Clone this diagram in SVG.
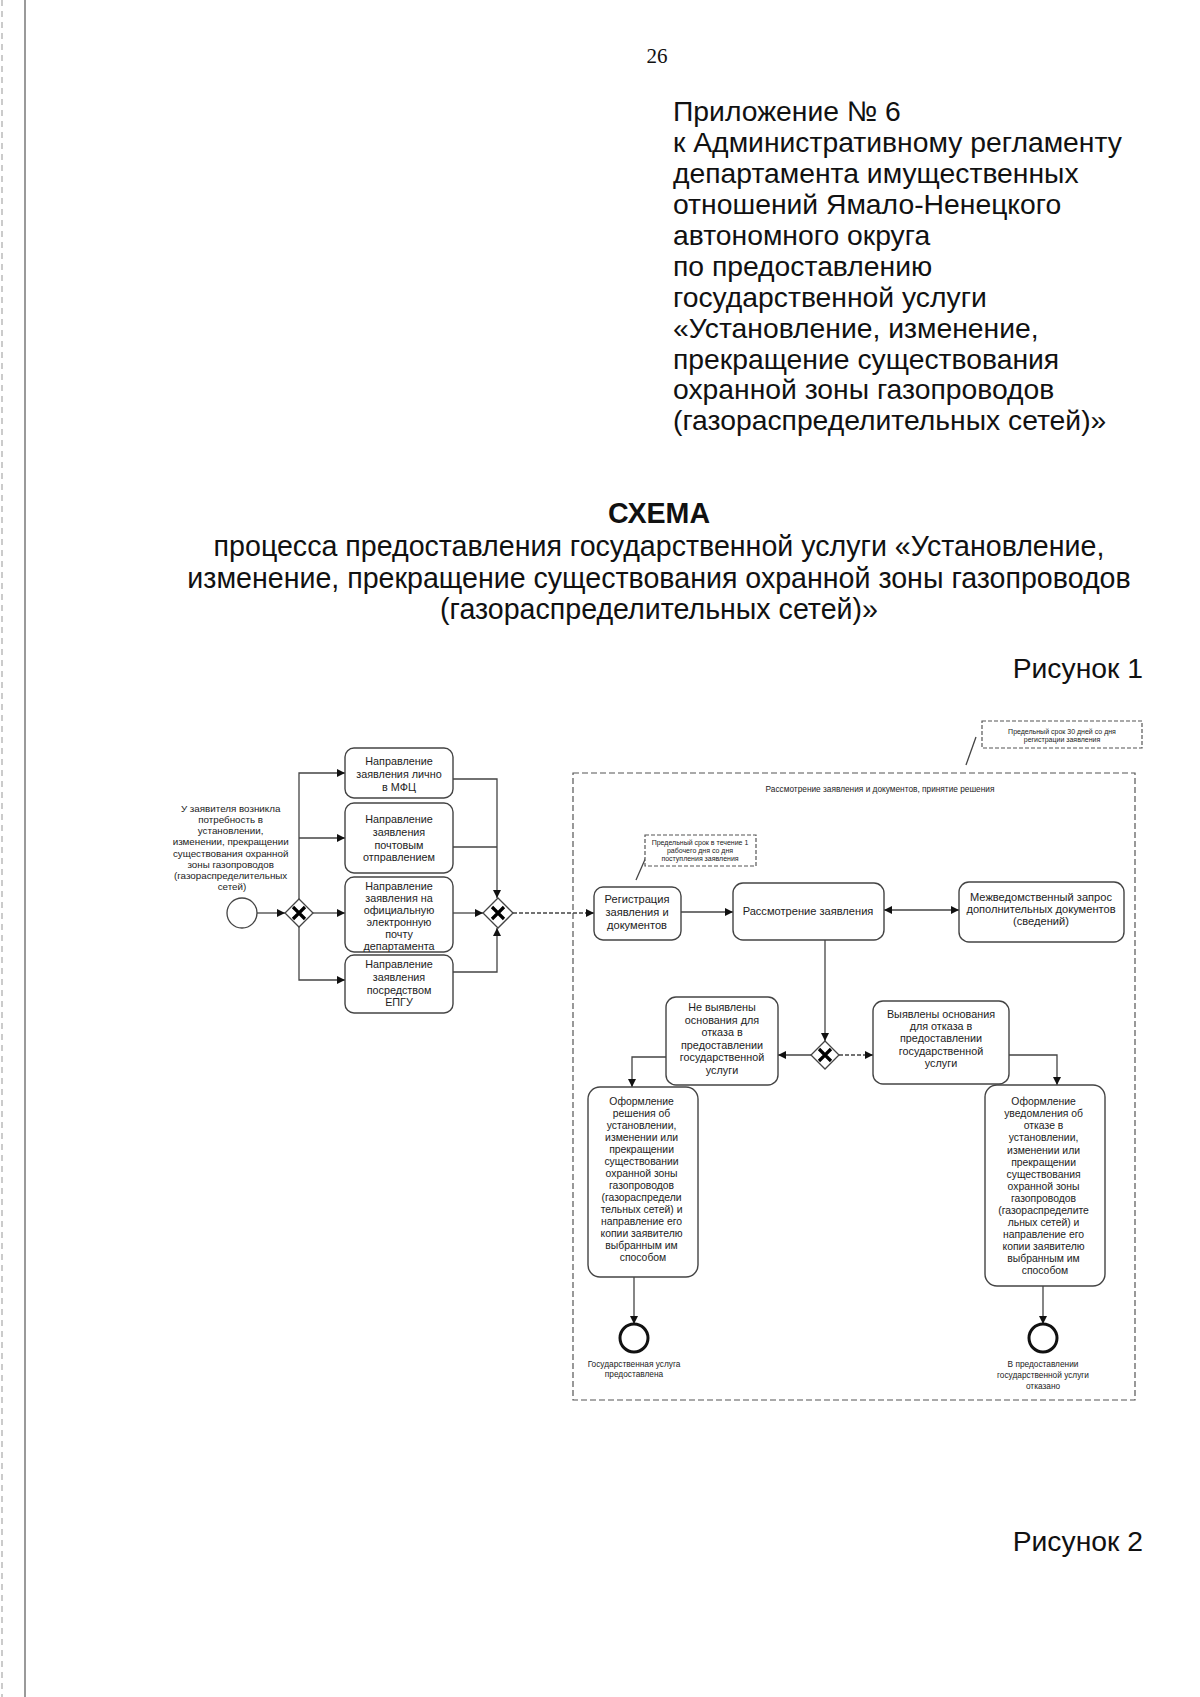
<svg xmlns="http://www.w3.org/2000/svg" width="1200" height="1697" viewBox="0 0 1200 1697">
<style>
  .page { font-family: "Liberation Sans", Arial, sans-serif; fill: #111; }
  .hdr { font-size: 28.3px; }
  .ttl { font-size: 28.6px; text-anchor: middle; }
  .num { font-family: "Liberation Serif", "Times New Roman", serif; font-size: 21px; fill: #111; text-anchor: middle; }
  .box { fill: #fff; stroke: #444; stroke-width: 1.4; }
  .t { font-family: "Liberation Sans", Arial, sans-serif; fill: #222; text-anchor: middle; }
  .t10 { font-size: 10.8px; }
  .t11 { font-size: 11.1px; }
  .t9 { font-size: 10.4px; }
  .t8 { font-size: 9.8px; }
  .t7 { font-size: 8.3px; }
  .t6 { font-size: 7px; }
  .edge { fill: none; stroke: #444; stroke-width: 1.3; }
  .dash { stroke-dasharray: 4 2; }
  .pool { fill: none; stroke: #555; stroke-width: 1.2; stroke-dasharray: 6 3; }
  .ann { fill: #fff; stroke: #555; stroke-width: 1.2; stroke-dasharray: 4 2; }
  .gw { fill: #fff; stroke: #444; stroke-width: 1.3; }
  .gx { stroke: #000; stroke-width: 3.2; stroke-linecap: butt; }
  .start { fill: #fff; stroke: #444; stroke-width: 1.3; }
  .end { fill: #fff; stroke: #111; stroke-width: 3; }
</style>
<defs>
  <marker id="arr" viewBox="0 0 10 10" refX="10" refY="5" markerWidth="8" markerHeight="8" markerUnits="userSpaceOnUse" orient="auto">
    <path d="M0,0 L10,5 L0,10 Z" fill="#111"/>
  </marker>
  <marker id="arrs" viewBox="0 0 10 10" refX="0" refY="5" markerWidth="8" markerHeight="8" markerUnits="userSpaceOnUse" orient="auto">
    <path d="M10,0 L0,5 L10,10 Z" fill="#111"/>
  </marker>
</defs>
<rect x="0" y="0" width="1200" height="1697" fill="#fff"/>

<g id="page-edge">
  <line x1="25" y1="0" x2="25" y2="1697" stroke="#9a9a9a" stroke-width="2"/>
  <line x1="2" y1="0" x2="2" y2="1697" stroke="#bbb" stroke-width="1.5" stroke-dasharray="6 5"/>
</g>

<g id="header" class="page">
  <text class="num" x="657" y="63">26</text>
  <text class="hdr" x="673" y="121">Приложение № 6</text>
  <text class="hdr" x="673" y="152">к Административному регламенту</text>
  <text class="hdr" x="673" y="183">департамента имущественных</text>
  <text class="hdr" x="673" y="214">отношений Ямало-Ненецкого</text>
  <text class="hdr" x="673" y="245">автономного округа</text>
  <text class="hdr" x="673" y="276">по предоставлению</text>
  <text class="hdr" x="673" y="307">государственной услуги</text>
  <text class="hdr" x="673" y="338">«Установление, изменение,</text>
  <text class="hdr" x="673" y="369">прекращение существования</text>
  <text class="hdr" x="673" y="399">охранной зоны газопроводов</text>
  <text class="hdr" x="673" y="430">(газораспределительных сетей)»</text>

  <text class="ttl" x="659" y="523" font-weight="bold" font-size="28.3">СХЕМА</text>
  <text class="ttl" x="659" y="556">процесса предоставления государственной услуги «Установление,</text>
  <text class="ttl" x="659" y="588">изменение, прекращение существования охранной зоны газопроводов</text>
  <text class="ttl" x="659" y="619">(газораспределительных сетей)»</text>

  <text class="hdr" x="1143" y="678" text-anchor="end">Рисунок 1</text>
  <text class="hdr" x="1143" y="1551" text-anchor="end">Рисунок 2</text>
</g>

<g id="pool">
  <rect class="pool" x="573" y="773" width="562" height="627"/>
  <text class="t t7" x="880" y="792">Рассмотрение заявления и документов, принятие решения</text>
</g>

<g id="connectors">
  <path class="edge" d="M257,913 H285" marker-end="url(#arr)"/>
  <path class="edge" d="M299,899 V773 H345" marker-end="url(#arr)"/>
  <path class="edge" d="M299,838 H345" marker-end="url(#arr)"/>
  <path class="edge" d="M313,913 H345" marker-end="url(#arr)"/>
  <path class="edge" d="M299,927 V980 H345" marker-end="url(#arr)"/>
  <path class="edge" d="M453,779 H497 V898" marker-end="url(#arr)"/>
  <path class="edge" d="M453,847 H497"/>
  <path class="edge" d="M453,913 H483" marker-end="url(#arr)"/>
  <path class="edge" d="M453,972 H497 V928" marker-end="url(#arr)"/>
  <path class="edge dash" d="M513,913 H594" marker-end="url(#arr)"/>
  <path class="edge" d="M681,912 H733" marker-end="url(#arr)"/>
  <path class="edge" d="M884,910 H959" marker-start="url(#arrs)" marker-end="url(#arr)"/>
  <path class="edge" d="M825,940 V1041" marker-end="url(#arr)"/>
  <path class="edge" d="M811,1055 H778" marker-end="url(#arr)"/>
  <path class="edge dash" d="M839,1055 H873" marker-end="url(#arr)"/>
  <path class="edge" d="M666,1057 H632 V1087" marker-end="url(#arr)"/>
  <path class="edge" d="M1009,1055 H1057 V1085" marker-end="url(#arr)"/>
  <path class="edge" d="M634,1277 V1324" marker-end="url(#arr)"/>
  <path class="edge" d="M1043,1286 V1324" marker-end="url(#arr)"/>
  <path class="edge" d="M966,765 L976,737"/>
  <path class="edge" d="M636,880 L650,848"/>
</g>

<g id="start">
  <circle class="start" cx="242" cy="913" r="15"/>
  <text class="t t8">
    <tspan x="232" y="812">У заявителя возникла</tspan>
    <tspan x="232" y="823">потребность в</tspan>
    <tspan x="232" y="834">установлении,</tspan>
    <tspan x="232" y="845">изменении, прекращении</tspan>
    <tspan x="232" y="857">существования охранной</tspan>
    <tspan x="232" y="868">зоны газопроводов</tspan>
    <tspan x="232" y="879">(газораспределительных</tspan>
    <tspan x="232" y="890">сетей)</tspan>
  </text>
</g>

<g id="gateway1">
  <path class="gw" d="M299,899 L313,913 L299,927 L285,913 Z"/>
  <path class="gx" d="M293,907 L305,919 M305,907 L293,919"/>
</g>

<g id="box-mfc">
  <rect class="box" x="345" y="748" width="108" height="50" rx="9"/>
  <text class="t t10"><tspan x="399" y="765">Направление</tspan><tspan x="399" y="778">заявления лично</tspan><tspan x="399" y="791">в МФЦ</tspan></text>
</g>
<g id="box-post">
  <rect class="box" x="345" y="803" width="108" height="70" rx="9"/>
  <text class="t t10"><tspan x="399" y="823">Направление</tspan><tspan x="399" y="836">заявления</tspan><tspan x="399" y="849">почтовым</tspan><tspan x="399" y="861">отправлением</tspan></text>
</g>
<g id="box-email">
  <rect class="box" x="345" y="877" width="108" height="75" rx="9"/>
  <text class="t t10"><tspan x="399" y="890">Направление</tspan><tspan x="399" y="902">заявления на</tspan><tspan x="399" y="914">официальную</tspan><tspan x="399" y="926">электронную</tspan><tspan x="399" y="938">почту</tspan><tspan x="399" y="950">департамента</tspan></text>
</g>
<g id="box-epgu">
  <rect class="box" x="345" y="955" width="108" height="58" rx="9"/>
  <text class="t t10"><tspan x="399" y="968">Направление</tspan><tspan x="399" y="981">заявления</tspan><tspan x="399" y="994">посредством</tspan><tspan x="399" y="1006">ЕПГУ</tspan></text>
</g>

<g id="gateway2">
  <path class="gw" d="M498,898 L513,913 L498,928 L483,913 Z"/>
  <path class="gx" d="M492,907 L504,919 M504,907 L492,919"/>
</g>

<g id="annot-30">
  <rect class="ann" x="982" y="721" width="160" height="27"/>
  <text class="t t6"><tspan x="1062" y="734">Предельный срок 30 дней со дня</tspan><tspan x="1062" y="742">регистрации заявления</tspan></text>
</g>
<g id="annot-1">
  <rect class="ann" x="645" y="835" width="111" height="31"/>
  <text class="t t6"><tspan x="700" y="845">Предельный срок в течение 1</tspan><tspan x="700" y="853">рабочего дня со дня</tspan><tspan x="700" y="861">поступления заявления</tspan></text>
</g>

<g id="box-reg">
  <rect class="box" x="594" y="887" width="87" height="53" rx="9"/>
  <text class="t t11"><tspan x="637" y="903">Регистрация</tspan><tspan x="637" y="916">заявления и</tspan><tspan x="637" y="929">документов</tspan></text>
</g>
<g id="box-review">
  <rect class="box" x="733" y="883" width="151" height="57" rx="10"/>
  <text class="t t11" x="808" y="915">Рассмотрение заявления</text>
</g>
<g id="box-request">
  <rect class="box" x="959" y="882" width="165" height="60" rx="10"/>
  <text class="t t11"><tspan x="1041" y="901">Межведомственный запрос</tspan><tspan x="1041" y="913">дополнительных документов</tspan><tspan x="1041" y="925">(сведений)</tspan></text>
</g>

<g id="gateway3">
  <path class="gw" d="M825,1041 L839,1055 L825,1069 L811,1055 Z"/>
  <path class="gx" d="M819,1049 L831,1061 M831,1049 L819,1061"/>
</g>

<g id="box-noground">
  <rect class="box" x="666" y="997" width="112" height="88" rx="10"/>
  <text class="t t10"><tspan x="722" y="1011">Не выявлены</tspan><tspan x="722" y="1024">основания для</tspan><tspan x="722" y="1036">отказа в</tspan><tspan x="722" y="1049">предоставлении</tspan><tspan x="722" y="1061">государственной</tspan><tspan x="722" y="1074">услуги</tspan></text>
</g>
<g id="box-ground">
  <rect class="box" x="873" y="1001" width="136" height="83" rx="10"/>
  <text class="t t10"><tspan x="941" y="1018">Выявлены основания</tspan><tspan x="941" y="1030">для отказа в</tspan><tspan x="941" y="1042">предоставлении</tspan><tspan x="941" y="1055">государственной</tspan><tspan x="941" y="1067">услуги</tspan></text>
</g>

<g id="box-decision">
  <rect class="box" x="588" y="1087" width="110" height="190" rx="12"/>
  <text class="t t9">
    <tspan x="643" y="1105">Оформление</tspan>
    <tspan x="643" y="1117">решения об</tspan>
    <tspan x="643" y="1129">установлении,</tspan>
    <tspan x="643" y="1141">изменении или</tspan>
    <tspan x="643" y="1153">прекращении</tspan>
    <tspan x="643" y="1165">существовании</tspan>
    <tspan x="643" y="1177">охранной зоны</tspan>
    <tspan x="643" y="1189">газопроводов</tspan>
    <tspan x="643" y="1201">(газораспредели</tspan>
    <tspan x="643" y="1213">тельных сетей) и</tspan>
    <tspan x="643" y="1225">направление его</tspan>
    <tspan x="643" y="1237">копии заявителю</tspan>
    <tspan x="643" y="1249">выбранным им</tspan>
    <tspan x="643" y="1261">способом</tspan>
  </text>
</g>
<g id="box-refusal">
  <rect class="box" x="985" y="1085" width="120" height="201" rx="12"/>
  <text class="t t9">
    <tspan x="1045" y="1105">Оформление</tspan>
    <tspan x="1045" y="1117">уведомления об</tspan>
    <tspan x="1045" y="1129">отказе в</tspan>
    <tspan x="1045" y="1141">установлении,</tspan>
    <tspan x="1045" y="1154">изменении или</tspan>
    <tspan x="1045" y="1166">прекращении</tspan>
    <tspan x="1045" y="1178">существования</tspan>
    <tspan x="1045" y="1190">охранной зоны</tspan>
    <tspan x="1045" y="1202">газопроводов</tspan>
    <tspan x="1045" y="1214">(газораспределите</tspan>
    <tspan x="1045" y="1226">льных сетей) и</tspan>
    <tspan x="1045" y="1238">направление его</tspan>
    <tspan x="1045" y="1250">копии заявителю</tspan>
    <tspan x="1045" y="1262">выбранным им</tspan>
    <tspan x="1045" y="1274">способом</tspan>
  </text>
</g>

<g id="end-provided">
  <circle class="end" cx="634" cy="1338" r="14"/>
  <text class="t t7"><tspan x="634" y="1367">Государственная услуга</tspan><tspan x="634" y="1377">предоставлена</tspan></text>
</g>
<g id="end-refused">
  <circle class="end" cx="1043" cy="1338" r="14"/>
  <text class="t t7"><tspan x="1043" y="1367">В предоставлении</tspan><tspan x="1043" y="1378">государственной услуги</tspan><tspan x="1043" y="1389">отказано</tspan></text>
</g>
</svg>
